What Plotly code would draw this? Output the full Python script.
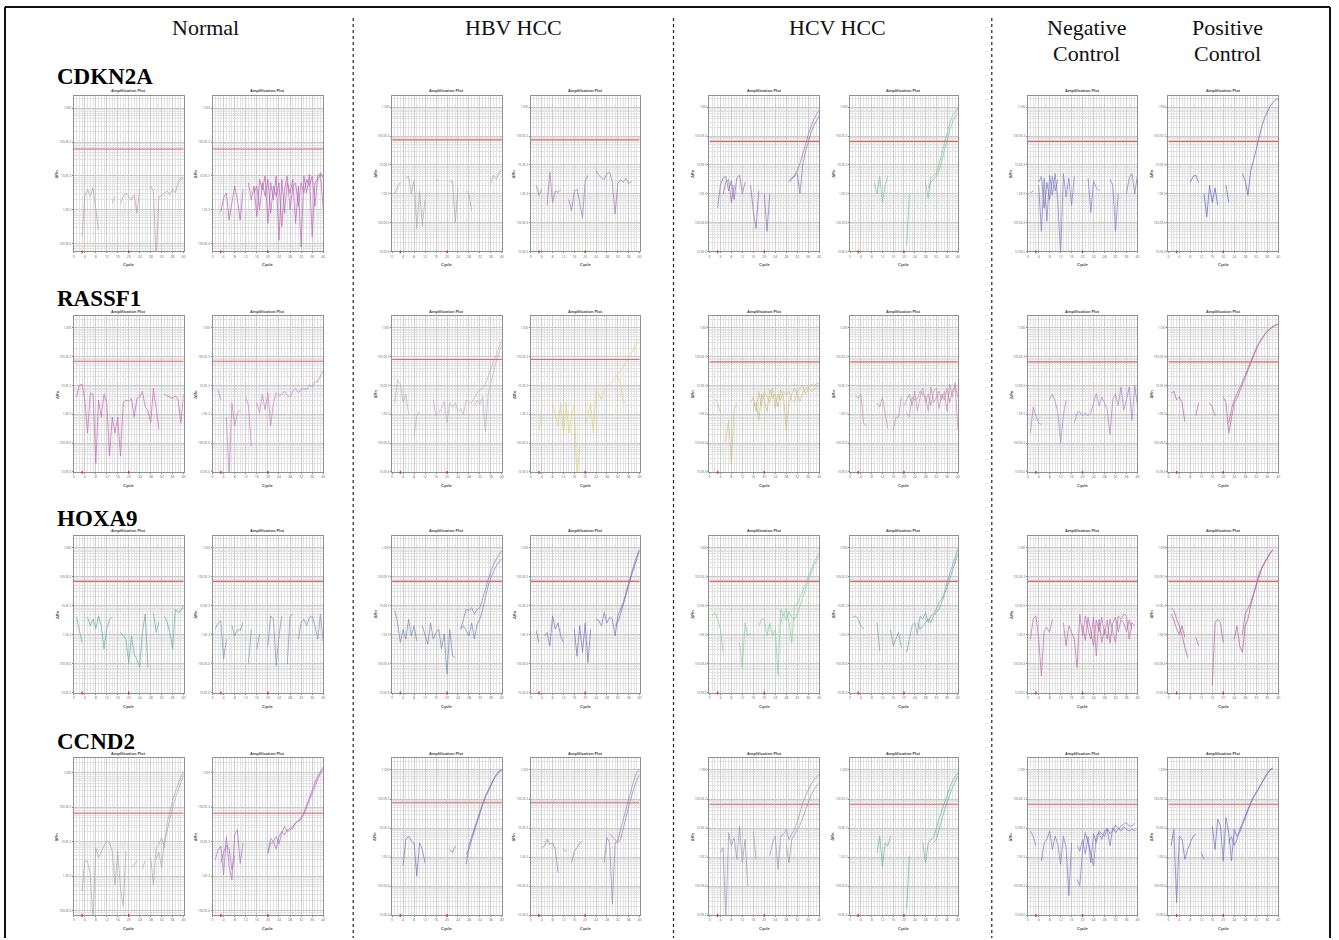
import plotly.graph_objects as go

N = None
W, H = 1339, 940

# ---------------- labels ----------------
GENES = ["CDKN2A", "RASSF1", "HOXA9", "CCND2"]
GROUP_LABELS = [["Normal"], ["HBV HCC"], ["HCV HCC"], ["Negative", "Control"], ["Positive", "Control"]]
CYCLES = list(range(1, 41))
X_TICKS = [0, 4, 8, 12, 16, 20, 24, 28, 32, 36, 40]
Y_TICK_EXP = [-5, -4, -3, -2, -1, 0]
Y_TICK_TEXT = ["10.0E-6", "100.0E-6", "1.0E-3", "10.0E-3", "100.0E-3", "1.000"]
BASELINE_CYCLES = [3, 20]

# ---------------- data: log10(dRn) per cycle 1..40 ----------------
# CDKN2A
cdkn2a_n1 = [N,N,-3.8,-2.6,-2.4,-2.6,-2.35,-2.9,-3.6,N,N,N,N,-2.8,-2.6,N,-2.8,-2.6,-2.5,-2.6,-2.7,-2.55,-3.1,-2.4,N,N,N,-2.3,-2.45,-4.5,-2.6,-2.6,-2.5,-2.45,-2.55,-2.4,-2.5,-2.2,-2.05,-2.1]
cdkn2a_n2a = [N,N,-3.05,-2.65,-2.5,-3.3,-2.8,-2.3,-2.7,-3.3,-2.4,N,-2.2,-2.7,-2.3,-3.2,-2.1,-2.4,-2.0,-3.4,-2.2,-2.7,-2.0,-3.9,-2.1,-3.1,-2.2,-2.5,-2.1,-3.4,-2.3,-4.1,-2.0,-2.5,-1.95,-3.8,-2.2,-2.1,-1.95,-3.0]
cdkn2a_n2b = [N,N,N,N,N,N,N,N,N,N,N,N,N,N,-2.5,-2.3,-3.0,-2.2,-2.6,-2.1,-3.1,-2.3,-2.6,-2.2,-3.5,-2.4,-2.0,-3.0,-2.3,-2.2,-2.9,-2.2,-2.5,-2.1,-2.3,-2.0,-2.9,-2.0,-1.9,-2.05]
cdkn2a_hbv1 = [-3.0,-2.75,-2.6,N,-2.45,-2.4,-3.0,-2.55,-4.2,-2.9,-4.1,-3.2,N,N,N,-2.5,-2.55,N,N,N,-2.6,-2.55,-4.0,-2.8,N,N,-2.9,-3.0,-3.6,N,N,N,N,N,N,-2.6,-2.35,-2.5,-2.25,-2.2]
cdkn2a_hbv2 = [N,-2.7,-3.05,-2.85,N,-3.4,-2.25,-3.3,-2.9,-2.95,-2.85,N,N,-3.2,-3.6,-2.9,-2.85,-3.3,-3.85,-2.55,-2.35,N,N,-2.2,-2.35,-2.45,-2.5,-2.3,-2.25,-2.6,-3.7,-2.65,-2.5,-2.6,-2.45,-2.65,-2.55,N,N,N]
cdkn2a_hcv1a = [N,N,-3.5,-2.7,-2.45,-2.4,-2.9,-2.55,-3.2,-2.45,-2.35,-3.0,-2.6,N,-2.7,-3.6,-4.2,-2.9,N,-3.0,-4.3,-3.0,N,N,N,N,N,N,-2.6,-2.5,-2.35,-2.2,-1.95,-1.65,-1.3,-0.95,-0.65,-0.42,-0.25,-0.12]
cdkn2a_hcv1b = [N,N,N,N,-3.0,-2.6,-2.5,-3.3,-2.7,N,N,N,N,N,N,N,N,N,N,N,N,N,N,N,N,N,N,N,-2.55,-2.45,-2.4,-2.3,-3.0,-2.0,-1.55,-1.2,-0.9,-0.65,-0.45,-0.3]
cdkn2a_hcv2a = [N,N,N,N,N,N,N,N,-2.6,-3.0,-2.4,-3.3,-2.7,-2.4,N,N,N,N,N,N,-4.8,-3.0,N,N,N,N,N,-2.6,-3.15,-2.45,-2.35,-2.3,-2.0,-1.65,-1.25,-0.85,-0.55,-0.3,-0.15,-0.02]
cdkn2a_hcv2b = [N,N,N,N,N,N,N,N,N,N,N,N,N,N,N,N,N,N,N,N,N,N,N,N,N,N,N,N,-2.8,-2.6,-2.5,-2.4,-2.2,-1.9,-1.5,-1.1,-0.78,-0.52,-0.33,-0.2]
cdkn2a_nega = [-2.97,-2.9,N,-2.7,-4.3,-2.45,-3.95,-2.35,-3.05,-2.3,-3.25,-5.2,-2.3,-3.1,-2.45,-3.4,-2.4,N,N,N,N,-2.45,-3.65,-2.55,-2.8,-2.9,N,N,N,-2.5,-2.7,-4.3,-3.0,N,N,-3.0,-2.45,-2.3,-3.0,-2.35]
cdkn2a_negb = [N,N,N,-2.6,-2.4,-3.5,-2.6,-3.2,-2.4,-2.9,-2.5,N,N,N,N,N,N,N,N,N,N,N,N,N,N,N,N,N,N,N,N,N,N,N,N,N,N,N,N,N]
cdkn2a_pos = [N,N,N,N,N,N,N,-2.6,-2.4,-2.35,-2.6,N,-3.0,-3.8,-2.7,-3.3,-2.8,-3.4,N,N,-2.7,-3.3,N,N,N,N,-2.3,-2.55,-3.05,-2.2,-1.85,-1.45,-1.05,-0.68,-0.38,-0.15,0.03,0.16,0.25,0.3]

# RASSF1
rassf1_n1 = [-2.4,-2.0,-1.95,-2.5,-3.65,-2.25,-2.3,-4.7,-2.5,-3.1,-2.3,-2.6,-4.45,-3.1,-3.65,-3.1,-4.45,-2.6,-2.5,-2.55,-2.45,-3.1,-2.45,-2.4,-2.2,-2.75,-2.85,-3.3,-2.1,-2.85,-3.5,N,-2.3,-2.35,-2.4,-2.45,-2.35,-2.5,-3.3,-2.3]
rassf1_n2 = [N,-2.15,-2.5,N,-3.1,-5.2,-2.6,-3.4,-2.95,-2.85,N,-2.4,-2.7,-4.1,N,-2.6,-2.95,-2.3,-2.85,-2.25,-3.4,-2.6,-2.25,-2.35,-2.3,-2.2,-2.35,-2.4,-2.2,-2.1,-2.25,-2.15,-2.1,-2.15,-1.98,-2.05,-1.87,-1.87,-1.65,-1.47]
rassf1_hbv1a = [-2.6,-1.8,-1.95,-2.6,-2.3,-3.0,N,-3.75,-3.05,-2.9,N,N,N,N,-2.5,-3.05,-2.95,-2.8,-2.55,-3.3,-2.6,-2.75,-2.6,-2.9,-2.8,-3.0,-2.5,-2.6,-2.6,-2.4,-2.25,-2.15,-2.1,-1.95,-1.7,-1.45,-1.15,-0.9,-0.65,-0.4]
rassf1_hbv1b = [N,N,N,N,N,N,N,N,N,N,N,N,N,N,N,N,N,N,N,N,N,N,N,N,N,N,N,N,N,-2.7,-2.5,-2.65,-2.4,-3.6,-2.3,-1.9,-1.5,-1.15,-0.85,-0.6]
rassf1_hbv2a = [N,N,-3.55,-2.8,N,N,N,-2.65,-3.05,-3.4,-2.6,-3.75,-2.6,-3.65,-3.05,-2.7,-5.2,-4.1,N,-3.4,-3.05,-2.6,-3.65,-2.15,-2.3,-2.5,-2.15,-2.05,-1.95,-1.85,-1.75,-1.62,-1.5,-1.35,-1.2,-1.05,-0.9,-0.72,-0.55,-0.38]
rassf1_hbv2b = [N,N,N,N,N,N,N,N,N,N,N,N,N,N,N,N,N,N,N,N,N,N,N,N,N,N,N,N,N,N,N,-1.7,-1.9,-2.6,-2.55,N,N,N,N,N]
rassf1_hcv1a = [N,-2.45,-2.6,-2.95,N,-3.95,-3.2,-4.7,-2.85,-2.65,N,N,N,N,N,-2.75,-2.6,-3.2,-2.3,-2.5,-2.9,-2.15,-2.45,-2.3,-2.75,-2.15,-2.4,-3.55,-2.6,-2.3,-2.1,-2.3,-2.55,-2.25,-2.1,-2.05,-2.2,-2.15,-2.05,-2.0]
rassf1_hcv1b = [N,N,N,N,N,N,N,N,N,N,N,N,N,N,-2.6,-2.4,-2.9,-2.2,-2.7,-2.2,-2.4,-2.6,-2.1,-2.8,-2.3,-2.5,-2.2,-2.35,-2.2,-2.5,-2.6,-2.2,-2.1,-2.0,-2.3,-2.1,-1.95,-2.0,-1.95,-1.9]
rassf1_hcv2a = [N,-2.33,-2.45,-2.3,-3.3,-3.42,N,N,N,-2.6,-2.75,-2.4,-2.95,-3.5,N,-3.55,-3.1,-3.1,-2.4,N,-2.95,-3.1,-2.4,-2.5,-2.45,-2.2,-2.3,-2.4,-2.9,-2.05,-2.6,-2.4,-2.2,-2.5,-2.2,-2.9,-1.95,-2.4,-1.9,-3.55]
rassf1_hcv2b = [N,N,N,N,N,N,N,N,N,N,N,N,N,N,N,N,N,N,N,-2.7,-2.5,-2.3,-2.7,-2.2,-2.9,-2.4,-2.1,-2.6,-2.3,-2.7,-2.2,-2.1,-2.8,-2.3,-2.5,-2.1,-2.6,-2.2,-2.0,-2.4]
rassf1_neg = [-3.65,-2.75,-3.05,-3.3,-3.35,N,N,-2.5,-2.3,-2.55,-2.95,-4.0,-3.05,-2.5,N,N,-3.3,-2.95,-2.9,-3.05,-2.95,-3.05,-2.95,-2.6,-2.28,-2.7,-2.4,-2.6,-2.85,-3.7,-2.5,-2.3,-2.7,-2.05,-2.85,-2.5,-2.05,-3.2,-2.0,-2.7]
rassf1_posa = [-2.28,-2.2,-2.5,-2.4,-2.6,-3.25,N,N,N,-3.05,-2.6,N,N,N,-2.6,-2.75,-3.05,N,N,-2.4,-2.6,-3.65,-3.05,-2.6,-2.45,-2.2,-1.95,-1.7,-1.45,-1.2,-0.95,-0.75,-0.55,-0.38,-0.25,-0.12,-0.03,0.05,0.1,0.13]
rassf1_posb = [N,N,N,N,N,N,N,N,N,N,N,N,N,N,N,N,N,N,N,N,N,-3.3,-2.8,-2.5,-2.3,-2.1,-1.9,-1.65,-1.4,-1.15,-0.92,-0.72,-0.53,-0.37,-0.24,-0.12,-0.04,0.04,0.09,0.12]

# HOXA9
hoxa9_n1 = [-2.41,-2.8,-3.28,N,-2.41,-2.7,-2.47,-2.8,-2.36,-2.7,-3.5,-2.8,-2.47,-2.41,N,N,-2.93,-3.05,-3.16,-4.0,-3.05,-3.68,-3.85,-4.13,-2.93,-2.3,-4.13,N,-2.24,-2.93,-2.58,N,-2.36,-2.58,-2.93,-3.5,-2.13,-2.24,-2.18,-2.0]
hoxa9_n2 = [-2.82,-2.6,-2.53,-3.85,-3.16,N,-2.7,-3.05,-2.82,-2.87,-2.58,N,-4.0,-2.82,N,-3.5,-2.99,N,N,-3.39,-2.36,-2.47,-4.08,-3.05,-2.36,N,-4.02,-2.36,-2.3,N,-3.16,-2.58,-2.47,-2.7,-2.41,-2.36,-2.7,-3.16,-2.3,-3.28]
hoxa9_hbv1a = [-2.18,-2.6,-3.28,-2.82,-3.16,-2.47,-3.05,-2.7,-3.22,N,-2.7,-3.05,-3.33,-2.6,-3.16,-2.93,-2.82,-3.5,-2.99,-4.37,-2.82,-3.74,-3.8,N,-2.82,-2.47,-2.13,-2.18,-2.07,-2.3,-2.13,-2.07,-1.78,-1.44,-1.1,-0.8,-0.57,-0.4,-0.23,-0.11]
hoxa9_hbv1b = [N,N,N,N,N,N,N,N,N,N,N,N,N,N,N,N,N,N,N,N,N,N,N,N,-2.82,-2.7,-2.87,-3.05,-2.6,-3.16,-2.64,-2.47,-2.13,-1.72,-1.32,-1.03,-0.8,-0.63,-0.49,-0.38]
hoxa9_hbv2a = [N,-2.87,-3.28,N,-3.05,-2.93,-3.4,-2.36,-2.82,-2.6,-3.05,-3.28,N,N,N,-2.82,-3.75,-2.7,-3.62,-2.6,-3.97,-2.82,N,-2.47,-2.53,-2.7,-2.24,-2.6,-2.41,-2.47,-3.05,-2.36,-2.13,-1.9,-1.55,-1.2,-0.86,-0.57,-0.29,-0.06]
hoxa9_hbv2b = [N,N,N,N,N,N,N,N,N,N,N,N,N,N,N,N,N,N,N,N,N,N,N,N,N,N,N,N,N,N,-2.7,-2.58,-2.3,-2.0,-1.67,-1.32,-0.98,-0.66,-0.38,-0.11]
hoxa9_hcv1a = [-2.36,-2.24,-2.47,-2.82,-3.62,N,-3.05,N,N,N,-3.28,-4.14,-2.59,-3.05,-2.93,N,N,-2.7,-2.47,-2.47,-3.05,-2.59,-3.05,-2.82,-4.4,-2.13,-2.36,-2.13,-2.59,-3.28,-2.0,-1.95,-1.75,-1.5,-1.25,-1.0,-0.78,-0.55,-0.35,-0.17]
hoxa9_hcv1b = [N,N,N,N,N,N,N,N,N,N,N,N,N,N,N,N,N,N,N,N,N,N,N,N,N,-2.6,-2.3,-2.5,-2.2,-2.4,-2.5,-2.3,-2.0,-1.7,-1.4,-1.12,-0.88,-0.65,-0.45,-0.27]
hoxa9_hcv2a = [-2.41,-2.36,-2.47,-2.7,-2.82,N,N,N,N,-2.59,-3.56,N,-3.28,N,-2.82,-3.39,-3.16,-2.93,-3.45,N,-3.62,-3.16,-2.7,-2.59,-2.99,-2.36,-2.47,-2.24,-2.59,-2.36,-2.3,-2.13,-1.9,-1.78,-1.55,-1.2,-0.92,-0.57,-0.29,-0.06]
hoxa9_hcv2b = [N,N,N,N,N,N,N,N,N,N,N,N,N,N,N,N,N,N,N,N,N,N,N,N,-2.59,-2.82,-2.7,-2.59,-2.47,-2.59,-2.36,-2.24,-2.13,-1.9,-1.67,-1.38,-1.09,-0.8,-0.52,-0.23]
hoxa9_nega = [-3.16,-2.47,-2.36,-3.16,-4.43,-2.87,-2.76,-2.93,-2.47,N,N,N,-2.59,-3.39,-2.7,-2.93,-3.16,-4.14,-2.3,-3.05,-2.36,-2.82,-3.16,-2.41,-3.73,-2.47,-3.28,-2.82,-3.16,-2.47,-2.93,-3.28,-2.36,-2.47,-2.3,-2.36,-3.16,-2.59,-2.7,N]
hoxa9_negb = [N,N,N,N,N,N,N,N,N,N,N,N,N,N,N,N,N,N,N,-2.7,-3.2,-2.4,-2.9,-3.4,-2.5,-2.9,-2.4,-3.0,-2.5,-3.3,-2.6,-2.4,-2.9,-2.5,-2.6,-2.9,-2.5,-2.8,N,N]
hoxa9_posa = [-2.07,-2.18,-2.47,-2.7,-3.05,-3.39,-3.8,N,N,-3.1,-3.39,N,N,N,N,-4.77,-2.59,-2.47,-2.59,-3.28,N,N,N,-3.16,-2.7,-3.39,-3.62,-2.7,-2.47,-2.01,-1.67,-1.26,-0.92,-0.69,-0.52,-0.34,-0.2,-0.06,N,N]
hoxa9_posb = [-2.3,-2.5,-2.8,-3.0,-2.7,-3.1,N,N,N,N,N,N,N,N,N,N,N,N,N,N,N,N,N,N,N,N,-3.0,-2.3,-2.1,-1.9,-1.6,-1.3,-1.0,-0.75,-0.55,-0.38,-0.22,-0.1,N,N]

# CCND2
ccnd2_n1a = [N,N,-3.43,-2.56,-2.56,-2.95,-4.3,-2.17,-2.46,-2.27,-2.12,-1.97,-2.02,-2.27,-3.24,-2.27,-3.34,-3.87,-2.27,N,-2.73,-2.68,-2.54,N,-2.78,-2.54,N,-2.44,-3.24,-2.17,-2.07,-1.87,-2.17,-1.45,-1.1,-0.8,-0.55,-0.32,-0.12,0.05]
ccnd2_n1b = [N,N,N,N,N,N,N,N,N,N,N,N,N,N,N,N,N,N,N,N,N,N,N,N,N,N,N,N,N,-2.5,-2.3,-2.75,-1.97,-1.68,-1.3,-1.0,-0.72,-0.48,-0.25,-0.05]
ccnd2_n2a = [-2.52,-2.23,-2.12,-2.96,-1.85,-2.73,-3.1,-1.8,-1.64,-2.62,-2.04,N,N,-1.7,N,N,N,N,N,-2.3,-1.9,-1.98,-1.85,-2.05,-1.75,-1.54,-1.7,-1.65,-1.6,-1.45,-1.4,-1.35,-1.15,-0.92,-0.7,-0.48,-0.28,-0.1,0.05,0.18]
ccnd2_n2b = [N,N,-2.6,-2.3,-2.1,-2.2,-2.8,-2.4,N,N,N,N,N,N,N,N,N,N,N,-2.35,-2.05,-2.0,-2.2,-1.85,-1.7,-1.8,-1.65,-1.6,-1.55,-1.45,-1.38,-1.3,-1.2,-1.0,-0.78,-0.56,-0.36,-0.18,-0.02,0.12]
ccnd2_hbv1a = [N,N,N,-3.31,-2.39,-2.28,-2.45,-2.51,-3.66,-2.51,-2.74,-3.2,N,N,-2.97,N,N,-2.8,N,N,-2.74,-2.85,-2.62,N,N,N,-3.25,-2.6,-2.3,-2.0,-1.7,-1.42,-1.15,-0.9,-0.68,-0.48,-0.3,-0.15,-0.03,0.02]
ccnd2_hbv1b = [N,N,N,N,N,N,N,N,N,N,N,N,N,N,N,N,N,N,N,N,N,N,N,N,N,N,-2.9,-2.75,-2.4,-2.08,-1.77,-1.48,-1.2,-0.95,-0.73,-0.52,-0.34,-0.19,-0.07,0.0]
ccnd2_hbv2a = [N,N,N,-2.68,-2.62,-2.39,-2.56,-2.51,-2.74,-3.54,N,-2.74,-2.8,N,-3.2,-2.8,-2.68,-2.51,-2.45,N,N,N,N,N,N,N,-3.2,-2.33,-2.51,-4.63,-2.51,-2.45,-2.05,-1.7,-1.36,-0.95,-0.61,-0.32,-0.09,0.02]
ccnd2_hbv2b = [N,N,N,N,N,N,N,N,N,N,N,N,N,N,N,N,N,N,N,N,N,N,N,N,N,N,N,N,-2.2,-2.3,-2.4,-2.5,-2.39,-2.05,-1.64,-1.25,-0.9,-0.6,-0.35,-0.15]
ccnd2_hcv1a = [N,N,N,-2.85,-2.68,-5.2,-2.16,-2.62,-2.33,-3.08,-1.93,-3.2,-2.39,-4.0,N,-2.11,-3.08,N,N,-1.99,N,-2.97,-2.51,-2.28,-3.42,-2.28,-2.22,-2.05,-2.4,-2.2,-2.05,-1.8,-1.45,-1.15,-0.9,-0.68,-0.5,-0.35,-0.23,-0.15]
ccnd2_hcv1b = [N,N,N,N,N,N,N,N,N,N,N,N,N,N,N,N,N,N,N,N,N,N,N,N,N,N,N,-2.6,-3.2,-2.4,-2.2,-2.05,-1.9,-1.65,-1.35,-1.1,-0.88,-0.7,-0.55,-0.45]
ccnd2_hcv2a = [N,N,N,N,N,N,N,N,N,-2.85,-2.28,-3.33,-2.51,-2.62,-2.28,N,N,N,N,N,-4.8,-2.97,N,N,N,N,-2.51,-3.2,-2.51,-2.39,-2.33,-2.05,-1.7,-1.41,-1.13,-0.84,-0.61,-0.38,-0.21,-0.09]
ccnd2_hcv2b = [N,N,N,N,N,N,N,N,N,N,N,N,N,N,N,N,N,N,N,N,N,N,N,N,N,N,N,N,N,N,-2.51,-2.39,-2.05,-1.7,-1.41,-1.1,-0.84,-0.61,-0.41,-0.21]
ccnd2_nega = [-2.1,-2.28,-2.62,N,-3.14,-2.51,-2.39,-2.1,-2.74,-2.28,-2.56,-3.25,-2.28,-2.68,-4.34,-2.51,N,-3.77,-4.0,-2.74,-2.16,-2.51,-2.85,-3.31,-2.28,-2.16,-2.39,-2.1,-2.05,-2.62,-1.99,-2.16,-2.05,-1.93,-1.87,-1.82,-1.93,-1.93,-1.82,N]
ccnd2_negb = [N,N,N,N,N,N,N,N,N,N,N,N,N,N,N,N,N,-2.6,-2.8,-2.4,-2.9,-2.3,-3.2,-2.2,-2.5,-2.1,-2.2,-2.3,-2.0,-2.2,-2.1,-1.9,-2.0,-2.1,-1.95,-2.05,-2.1,-2.05,-2.1,N]
ccnd2_posa = [-2.62,-2.05,-4.57,-2.28,-2.39,-3.08,-2.74,-2.51,-2.28,-2.22,N,-2.85,-3.08,N,N,-1.93,-2.74,-1.7,-1.93,-3.14,-1.64,-2.16,-3.13,-2.05,-2.28,-2.15,-1.9,-1.6,-1.35,-1.15,-0.95,-0.8,-0.63,-0.45,-0.28,-0.12,0.0,0.07,N,N]
ccnd2_posb = [N,N,N,N,N,N,N,N,N,N,N,N,N,N,N,N,N,N,N,N,N,-2.5,-2.3,-2.6,-2.4,-2.05,-1.82,-1.55,-1.32,-1.12,-0.93,-0.77,-0.6,-0.43,-0.27,-0.13,-0.02,0.06,N,N]

# thresholds (log10 dRn) and y ranges (log10)
THRESH = [
    [-1.2, -1.2, -1.13, -1.13, -1.18, -1.18, -1.18, -1.18],
    [-1.16, -1.16, -1.1, -1.1, -1.18, -1.18, -1.18, -1.18],
    [-1.17, -1.17, -1.17, -1.17, -1.17, -1.17, -1.17, -1.17],
    [-1.17, -1.17, -1.13, -1.13, -1.18, -1.18, -1.18, -1.18],
]
YR_STD = [-5.0, 0.4]
YR_N1 = [-4.23, 0.37]
YR_N4 = [-4.12, 0.42]

PANELS = [
    [([cdkn2a_n1], "#b39aa6"), ([cdkn2a_n2a, cdkn2a_n2b], "#b65cb2"), ([cdkn2a_hbv1], "#aaa2ac"),
     ([cdkn2a_hbv2], "#9c74b6"), ([cdkn2a_hcv1a, cdkn2a_hcv1b], "#8a6cae"), ([cdkn2a_hcv2a, cdkn2a_hcv2b], "#76c09e"),
     ([cdkn2a_nega, cdkn2a_negb], "#7a70c0"), ([cdkn2a_pos], "#5c5cba")],
    [([rassf1_n1], "#c060b2"), ([rassf1_n2], "#c67abc"), ([rassf1_hbv1a, rassf1_hbv1b], "#c0a8ba"),
     ([rassf1_hbv2a, rassf1_hbv2b], "#d8d474"), ([rassf1_hcv1a, rassf1_hcv1b], "#cbbd7c"), ([rassf1_hcv2a, rassf1_hcv2b], "#c08aaa"),
     ([rassf1_neg], "#a27ec2"), ([rassf1_posa, rassf1_posb], "#b0609c")],
    [([hoxa9_n1], "#5aa898"), ([hoxa9_n2], "#7e8cb4"), ([hoxa9_hbv1a, hoxa9_hbv1b], "#7080b0"),
     ([hoxa9_hbv2a, hoxa9_hbv2b], "#7468b8"), ([hoxa9_hcv1a, hoxa9_hcv1b], "#7ccf96"), ([hoxa9_hcv2a, hoxa9_hcv2b], "#6e9ea0"),
     ([hoxa9_nega, hoxa9_negb], "#b868aa"), ([hoxa9_posa, hoxa9_posb], "#b0588a")],
    [([ccnd2_n1a, ccnd2_n1b], "#a6a6a6"), ([ccnd2_n2a, ccnd2_n2b], "#a868c0"), ([ccnd2_hbv1a, ccnd2_hbv1b], "#6c6cc0"),
     ([ccnd2_hbv2a, ccnd2_hbv2b], "#9080b0"), ([ccnd2_hcv1a, ccnd2_hcv1b], "#9890b2"), ([ccnd2_hcv2a, ccnd2_hcv2b], "#60b090"),
     ([ccnd2_nega, ccnd2_negb], "#7c70c0"), ([ccnd2_posa, ccnd2_posb], "#6c64c0")],
]

# ---------------- layout geometry (pixels) ----------------
COL_X = [(73, 183), (212, 323), (392, 502), (531, 640), (710, 820), (851, 959), (1029, 1139), (1170, 1280)]
ROW_Y = [(96, 252), (317, 473), (537, 694), (760, 917)]
GROUP_X = [205, 514, 838, 1088, 1229]
HEADER_Y = [28, 54]
GENE_Y = [77, 299, 520, 743]
SEP_X = [353, 674, 993]


def px(x):
    return x / W


def py(y):
    return 1 - y / H


fig = go.Figure()
layout = {}
annotations = []
shapes = []
minor_y = [m * 10 ** k for k in range(-6, 1) for m in range(2, 10)]

n = 0
for r in range(4):
    for c in range(8):
        n += 1
        traces, color = PANELS[r][c]
        if r == 0 and c <= 1:
            yr = YR_N1
        elif r == 3 and c <= 1:
            yr = YR_N4
        else:
            yr = YR_STD
        xa = "x" if n == 1 else f"x{n}"
        ya = "y" if n == 1 else f"y{n}"
        xk = "xaxis" if n == 1 else f"xaxis{n}"
        yk = "yaxis" if n == 1 else f"yaxis{n}"
        x0, x1 = COL_X[c]
        y0, y1 = ROW_Y[r]
        layout[xk] = dict(
            domain=[px(x0), px(x1)], anchor=ya, range=[0, 40],
            tickmode="array", tickvals=X_TICKS, ticktext=[str(t) for t in X_TICKS],
            tickfont=dict(size=3.5, color="#666"), ticks="outside", ticklen=1, tickcolor="#888",
            showgrid=True, gridcolor="#cdcdcd", gridwidth=0.6,
            minor=dict(dtick=1, tick0=0, showgrid=True, gridcolor="#e2e2e2", gridwidth=0.5),
            showline=True, linecolor="#909090", linewidth=1, mirror=True, zeroline=False,
            fixedrange=True,
        )
        layout[yk] = dict(
            domain=[py(y1), py(y0)], anchor=xa, type="log", range=yr,
            tickmode="array", tickvals=[10 ** e for e in Y_TICK_EXP], ticktext=Y_TICK_TEXT,
            tickfont=dict(size=3, color="#666"), ticks="outside", ticklen=1, tickcolor="#888",
            showgrid=True, gridcolor="#cacaca", gridwidth=0.6,
            minor=dict(tickmode="array", tickvals=minor_y, showgrid=True, gridcolor="#e3e3e3", gridwidth=0.5),
            showline=True, linecolor="#909090", linewidth=1, mirror=True, zeroline=False,
            fixedrange=True,
        )
        for tr in traces:
            fig.add_trace(go.Scatter(
                x=CYCLES, y=[None if v is None else 10 ** v for v in tr],
                mode="lines", line=dict(color=color, width=0.8), opacity=0.85,
                xaxis=xa, yaxis=ya, showlegend=False, hoverinfo="skip", connectgaps=False,
            ))
        thr = 10 ** THRESH[r][c]
        fig.add_trace(go.Scatter(
            x=[0, 40], y=[thr, thr], mode="lines",
            line=dict(color="#e06a6a", width=1.1), xaxis=xa, yaxis=ya,
            showlegend=False, hoverinfo="skip",
        ))
        for bc in BASELINE_CYCLES:
            shapes.append(dict(type="line", xref=xa, yref=f"{ya} domain", x0=bc, x1=bc,
                               y0=-0.012, y1=0.006, line=dict(color="#e03030", width=1.4)))
        cx = (x0 + x1) / 2
        annotations.append(dict(text="<b>Amplification Plot</b>", x=px(cx), y=py(y0 - 0.5), xref="paper", yref="paper",
                                xanchor="center", yanchor="bottom", showarrow=False,
                                font=dict(size=4, color="#444", family="Liberation Sans")))
        annotations.append(dict(text="<b>Cycle</b>", x=px(cx), y=py(y1 + 9), xref="paper", yref="paper",
                                xanchor="center", yanchor="top", showarrow=False,
                                font=dict(size=4, color="#444", family="Liberation Sans")))
        annotations.append(dict(text="<b>ΔRn</b>", x=px(x0 - 17), y=py((y0 + y1) / 2), xref="paper", yref="paper",
                                xanchor="center", yanchor="middle", showarrow=False, textangle=-90,
                                font=dict(size=4, color="#444", family="Liberation Sans")))

# headers (one annotation per line)
for gx, lines in zip(GROUP_X, GROUP_LABELS):
    for li, txt in enumerate(lines):
        annotations.append(dict(text=txt, x=px(gx), y=py(HEADER_Y[li]), xref="paper", yref="paper",
                                xanchor="center", yanchor="middle", showarrow=False,
                                font=dict(size=22, color="#111", family="Liberation Serif")))
for gy, gn in zip(GENE_Y, GENES):
    annotations.append(dict(text=f"<b>{gn}</b>", x=px(54), y=py(gy), xref="paper", yref="paper",
                            xanchor="left", yanchor="middle", showarrow=False,
                            font=dict(size=23, color="#000", family="Liberation Serif")))

# frame and dotted separators
shapes.append(dict(type="line", xref="paper", yref="paper", x0=px(4), x1=px(1332), y0=py(7), y1=py(7),
                   line=dict(color="#111", width=2)))
shapes.append(dict(type="line", xref="paper", yref="paper", x0=px(4), x1=px(4), y0=py(7), y1=py(940),
                   line=dict(color="#111", width=2)))
shapes.append(dict(type="line", xref="paper", yref="paper", x0=px(1332), x1=px(1332), y0=py(7), y1=py(940),
                   line=dict(color="#111", width=2)))
for sx in SEP_X:
    shapes.append(dict(type="line", xref="paper", yref="paper", x0=px(sx), x1=px(sx), y0=py(18), y1=py(940),
                       line=dict(color="#222", width=1.2, dash="dot")))

fig.update_layout(
    width=W, height=H, margin=dict(l=0, r=0, t=0, b=0),
    paper_bgcolor="white", plot_bgcolor="white",
    annotations=annotations, shapes=shapes, showlegend=False,
    **layout,
)
fig.write_html(
    "out.html",
    config={"displayModeBar": False},
    post_script="document.body.style.margin='0px';document.body.style.overflow='hidden';",
)
